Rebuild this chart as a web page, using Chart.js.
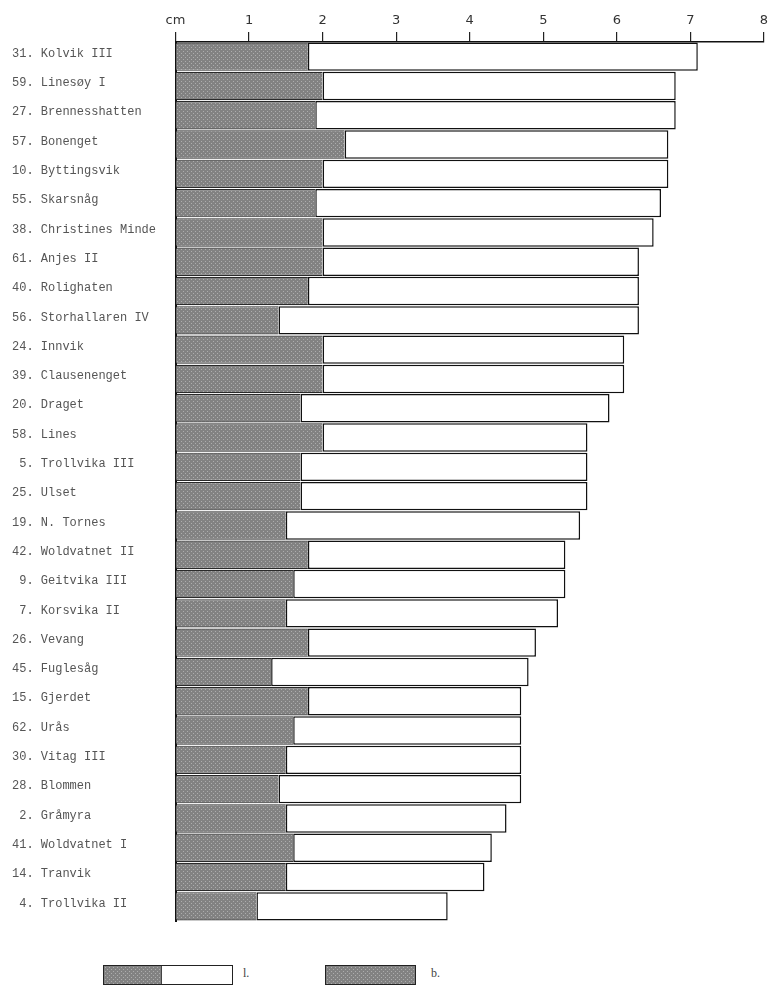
<!DOCTYPE html>
<html>
<head>
<meta charset="utf-8">
<title>Lengde og bredde</title>
<script src="https://cdn.jsdelivr.net/npm/chart.js@4.4.1/dist/chart.umd.min.js"></script>
<style>
  html, body { margin: 0; padding: 0; background: #fff; }
  #wrap { position: relative; width: 768px; height: 997px; overflow: hidden; }
  #chart { position: absolute; left: 0; top: 0; }
  .key { position: absolute; top: 965px; height: 20px; box-sizing: border-box;
         border: 1.5px solid #222; display: flex; }
  .key .dark { height: 100%; }
  .key .light { height: 100%; background: #fff; border-left: 1px solid #444; }
  .keylabel { position: absolute; top: 966px; font: 12px "Liberation Serif", serif; color: #444; }
</style>
</head>
<body>
<div id="wrap">
  <canvas id="chart" width="768" height="940"></canvas>
  <div class="key" style="left:103px;width:130px;"><div class="dark" style="width:57px;"></div><div class="light" style="flex:1;"></div></div>
  <div class="keylabel" style="left:243px;">l.</div>
  <div class="key" style="left:325px;width:91px;"><div class="dark" style="flex:1;"></div></div>
  <div class="keylabel" style="left:431px;">b.</div>
</div>
<script>
// Sites, sorted by length (cm)
const sites = [
  '31. Kolvik III', '59. Linesøy I', '27. Brennesshatten', '57. Bonenget',
  '10. Byttingsvik', '55. Skarsnåg', '38. Christines Minde', '61. Anjes II',
  '40. Rolighaten', '56. Storhallaren IV', '24. Innvik', '39. Clausenenget',
  '20. Draget', '58. Lines', ' 5. Trollvika III', '25. Ulset',
  '19. N. Tornes', '42. Woldvatnet II', ' 9. Geitvika III', ' 7. Korsvika II',
  '26. Vevang', '45. Fuglesåg', '15. Gjerdet', '62. Urås',
  '30. Vitag III', '28. Blommen', ' 2. Gråmyra', '41. Woldvatnet I',
  '14. Tranvik', ' 4. Trollvika II'
];

// l. = length, cm
const lengthCm = [
  7.1, 6.8, 6.8, 6.7, 6.7, 6.6, 6.5, 6.3, 6.3, 6.3,
  6.1, 6.1, 5.9, 5.6, 5.6, 5.6, 5.5, 5.3, 5.3, 5.2,
  4.9, 4.8, 4.7, 4.7, 4.7, 4.7, 4.5, 4.3, 4.2, 3.7
];

// b. = breadth, cm
const breadthCm = [
  1.8, 2.0, 1.9, 2.3, 2.0, 1.9, 2.0, 2.0, 1.8, 1.4,
  2.0, 2.0, 1.7, 2.0, 1.7, 1.7, 1.5, 1.8, 1.6, 1.5,
  1.8, 1.3, 1.8, 1.6, 1.5, 1.4, 1.5, 1.6, 1.5, 1.1
];

// Scale ticks along the top edge
const scaleTicks = ['cm', '1', '2', '3', '4', '5', '6', '7', '8'];

// Stippled grey fill for the breadth part
function makeStipple() {
  const c = document.createElement('canvas');
  c.width = 4; c.height = 4;
  const g = c.getContext('2d');
  g.fillStyle = '#828282';
  g.fillRect(0, 0, 4, 4);
  g.fillStyle = '#adadad';
  g.fillRect(1, 1, 1, 1);
  g.fillRect(3, 3, 1, 1);
  return c;
}
const stippleCanvas = makeStipple();
const ctx = document.getElementById('chart').getContext('2d');
const stipple = ctx.createPattern(stippleCanvas, 'repeat');
document.querySelectorAll('.key .dark').forEach(el => {
  el.style.backgroundImage = 'url(' + stippleCanvas.toDataURL() + ')';
});

new Chart(ctx, {
  type: 'bar',
  data: {
    labels: sites,
    datasets: [
      {
        label: 'b.',
        data: breadthCm,
        backgroundColor: stipple,
        borderColor: '#2a2a2a',
        borderWidth: { top: 1.2, bottom: 1.2, left: 0, right: 0 },
        borderSkipped: 'start',
        grouped: false,
        order: 1
      },
      {
        label: 'l.',
        data: breadthCm.map((b, i) => [b, lengthCm[i]]),
        backgroundColor: '#ffffff',
        borderColor: '#111111',
        borderWidth: 1.5,
        borderSkipped: false,
        grouped: false,
        order: 2
      }
    ]
  },
  options: {
    indexAxis: 'y',
    responsive: false,
    animation: false,
    layout: { padding: { left: 12, right: 4, top: 0, bottom: 19 } },
    datasets: { bar: { barPercentage: 0.97, categoryPercentage: 1.0 } },
    plugins: {
      legend: { display: false },
      tooltip: { enabled: false }
    },
    scales: {
      x: {
        position: 'top',
        min: 0,
        max: 8,
        afterFit: s => { s.height = 42; s.paddingRight = 0; s.paddingLeft = 0; },
        ticks: {
          stepSize: 1,
          padding: 4,
          color: '#333',
          font: { family: '"DejaVu Sans", sans-serif', size: 13 },
          callback: (v, i) => scaleTicks[i]
        },
        grid: {
          drawOnChartArea: false,
          drawTicks: true,
          tickLength: 10,
          color: '#222',
          lineWidth: 1.2
        },
        border: { display: true, color: '#111', width: 1.5 }
      },
      y: {
        afterFit: s => { s.width = 175.5 - 12; },
        ticks: {
          crossAlign: 'far',
          labelOffset: -3,
          color: '#555',
          font: { family: '"Liberation Mono", monospace', size: 12 }
        },
        grid: { display: false, drawTicks: false },
        border: { display: true, color: '#111', width: 2 }
      }
    }
  }
});
</script>
</body>
</html>
